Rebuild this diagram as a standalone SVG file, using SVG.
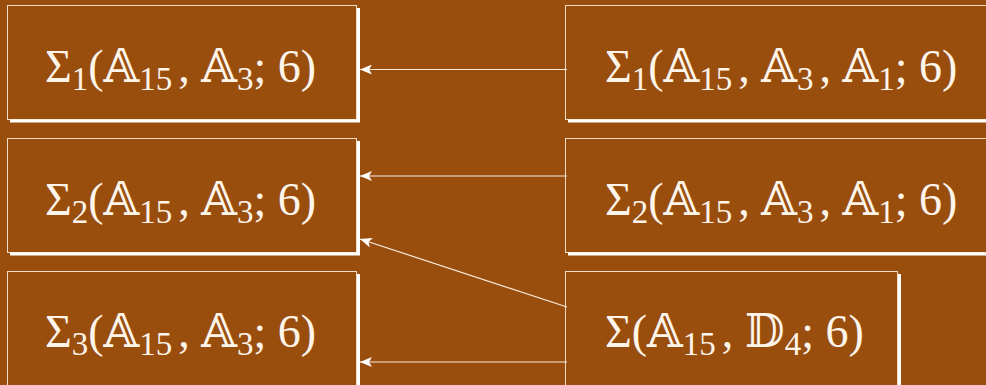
<svg xmlns="http://www.w3.org/2000/svg" width="986" height="385" viewBox="0 0 986 385">
<defs>
<style>
.bg{fill:#9a4e0d}
.box{fill:#9a4e0d;stroke:#f3dcc4;stroke-width:1}
.sh{fill:none;stroke:#ffffff;stroke-width:3}
.lbl{font-family:"Liberation Serif","DejaVu Serif","DejaVu Sans",serif;font-size:46px;fill:#fdf4ea}
.sub{font-size:33px}
.conn{stroke:#f7ecdf;stroke-width:1.2;fill:none;marker-end:url(#ah)}
</style>
<marker id="ah" viewBox="0 0 12 10" refX="12" refY="5" markerWidth="12" markerHeight="10" markerUnits="userSpaceOnUse" orient="auto">
<path d="M0,0 L12,5 L0,10 L3,5 z" fill="#ffffff"/>
</marker>
</defs>
<rect class="bg" x="0" y="0" width="986" height="385"/>

<g id="L1">
<rect class="box" x="7.5" y="5.5" width="349" height="114"/>
<polyline class="sh" points="10,121 358.5,121 358.5,8"/>
<text class="lbl" x="45" y="82">Σ<tspan class="sub" dy="8">1</tspan><tspan dy="-8">(𝔸</tspan><tspan class="sub" dy="8">15</tspan><tspan dx="6" dy="-8">, 𝔸</tspan><tspan class="sub" dy="8">3</tspan><tspan dy="-8">; 6)</tspan></text>
</g>
<g id="L2">
<rect class="box" x="7.5" y="138.5" width="349" height="114"/>
<polyline class="sh" points="10,254 358.5,254 358.5,141"/>
<text class="lbl" x="45" y="215">Σ<tspan class="sub" dy="8">2</tspan><tspan dy="-8">(𝔸</tspan><tspan class="sub" dy="8">15</tspan><tspan dx="6" dy="-8">, 𝔸</tspan><tspan class="sub" dy="8">3</tspan><tspan dy="-8">; 6)</tspan></text>
</g>
<g id="L3">
<rect class="box" x="7.5" y="271.5" width="349" height="120"/>
<polyline class="sh" points="358.5,274 358.5,390"/>
<text class="lbl" x="45" y="347">Σ<tspan class="sub" dy="8">3</tspan><tspan dy="-8">(𝔸</tspan><tspan class="sub" dy="8">15</tspan><tspan dx="6" dy="-8">, 𝔸</tspan><tspan class="sub" dy="8">3</tspan><tspan dy="-8">; 6)</tspan></text>
</g>
<g id="R1">
<rect class="box" x="565.5" y="5.5" width="430" height="114"/>
<polyline class="sh" points="568,121 990,121"/>
<text class="lbl" x="605" y="82">Σ<tspan class="sub" dy="8">1</tspan><tspan dy="-8">(𝔸</tspan><tspan class="sub" dy="8">15</tspan><tspan dx="6" dy="-8">, 𝔸</tspan><tspan class="sub" dy="8">3</tspan><tspan dx="6" dy="-8">, 𝔸</tspan><tspan class="sub" dy="8">1</tspan><tspan dy="-8">; 6)</tspan></text>
</g>
<g id="R2">
<rect class="box" x="565.5" y="138.5" width="430" height="114"/>
<polyline class="sh" points="568,254 990,254"/>
<text class="lbl" x="605" y="215">Σ<tspan class="sub" dy="8">2</tspan><tspan dy="-8">(𝔸</tspan><tspan class="sub" dy="8">15</tspan><tspan dx="6" dy="-8">, 𝔸</tspan><tspan class="sub" dy="8">3</tspan><tspan dx="6" dy="-8">, 𝔸</tspan><tspan class="sub" dy="8">1</tspan><tspan dy="-8">; 6)</tspan></text>
</g>
<g id="R3">
<rect class="box" x="565.5" y="271.5" width="332" height="120"/>
<polyline class="sh" points="899.5,274 899.5,390"/>
<text class="lbl" x="605" y="347">Σ(𝔸<tspan class="sub" dy="8">15</tspan><tspan dx="6" dy="-8">, 𝔻</tspan><tspan class="sub" dy="8">4</tspan><tspan dy="-8">; 6)</tspan></text>
</g>

<g id="connectors">
<line class="conn" x1="567" y1="69.5" x2="360" y2="69.5"/>
<line class="conn" x1="567" y1="176" x2="360" y2="176"/>
<line class="conn" x1="567" y1="307" x2="360" y2="239"/>
<line class="conn" x1="567" y1="362" x2="360" y2="362"/>
</g>
</svg>
